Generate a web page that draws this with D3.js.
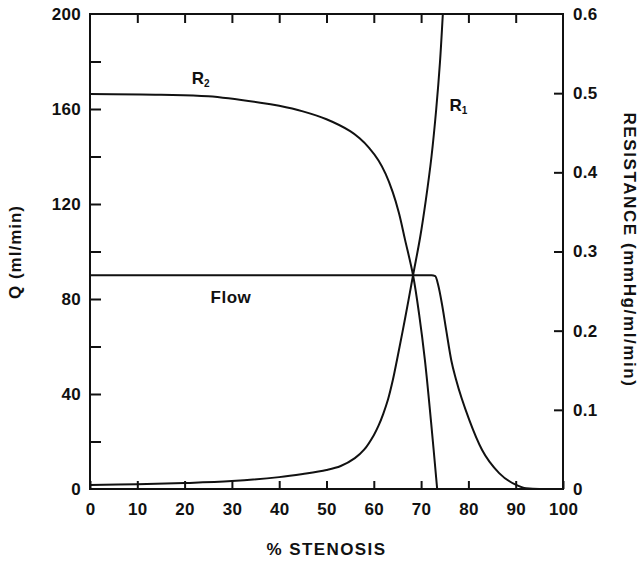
<!DOCTYPE html>
<html>
<head>
<meta charset="utf-8">
<script src="https://cdn.jsdelivr.net/npm/d3@7"></script>
<style>
  body { margin: 0; background: #fff; }
  text { font-family: "Liberation Sans", Arial, sans-serif; font-weight: bold; fill: #111; }
</style>
</head>
<body>
<svg id="chart" width="640" height="562"></svg>
<script>
// --------------- Data ---------------
const STENOSIS_TICKS = [0, 10, 20, 30, 40, 50, 60, 70, 80, 90, 100];
const Q_TICKS = [0, 40, 80, 120, 160, 200];
const R_TICKS = [0, 0.1, 0.2, 0.3, 0.4, 0.5, 0.6];

// flow (ml/min) vs % stenosis
const flowX = [0, 20, 40, 60, 72.2, 73.0, 73.6, 74.4, 75.3, 76.4, 77.4, 80.2, 82.9, 86.5, 90.1, 92.2, 95, 100];
const flowY = [90, 90, 90, 90, 90, 89.6, 86, 78, 67, 54, 46, 29, 16.4, 6.7, 1.7, 0.3, 0, 0];

// R1 resistance (mmHg/ml/min)
const r1X = [0, 10, 20, 30, 40, 45, 50, 53, 56, 58, 60, 61, 62, 63, 64, 64.9, 66.6, 68.3, 69.8, 71, 72.2, 73.2, 74, 74.6, 75.2];
const r1Y = [0.005, 0.006, 0.0075, 0.01, 0.015, 0.019, 0.024, 0.029, 0.039, 0.05, 0.068, 0.08, 0.095, 0.113, 0.137, 0.163, 0.215, 0.27, 0.318, 0.365, 0.42, 0.48, 0.54, 0.6, 0.66];

// R2 resistance (mmHg/ml/min)
const r2X = [0, 15, 25, 36, 40, 45, 50, 55, 57, 59, 61, 62.5, 64, 65.3, 66.6, 68.3, 69.6, 70.8, 72.1, 73.4];
const r2Y = [0.499, 0.498, 0.496, 0.488, 0.484, 0.477, 0.467, 0.452, 0.443, 0.431, 0.415, 0.398, 0.375, 0.349, 0.315, 0.27, 0.22, 0.163, 0.085, 0];

// --------------- Layout ---------------
const PLOT = { left: 90, right: 563, top: 14, bottom: 489 };

const svg = d3.select("#chart");
const x = d3.scaleLinear().domain([0, 100]).range([PLOT.left, PLOT.right]);
const yQ = d3.scaleLinear().domain([0, 200]).range([PLOT.bottom, PLOT.top]);
const yR = d3.scaleLinear().domain([0, 0.6]).range([PLOT.bottom, PLOT.top]);

svg.append("defs").append("clipPath").attr("id", "plot-clip")
  .append("rect")
  .attr("x", PLOT.left).attr("y", PLOT.top)
  .attr("width", PLOT.right - PLOT.left).attr("height", PLOT.bottom - PLOT.top);

// --------------- Axes ---------------
const styleAxis = (g) => {
  g.select(".domain").remove();
  g.selectAll(".tick line").attr("stroke", "#111").attr("stroke-width", 2);
  g.selectAll(".tick text")
    .attr("font-size", 17)
    .attr("fill", "#111")
    .style("font-family", "Liberation Sans, Arial, sans-serif")
    .style("font-weight", "bold")
    .style("letter-spacing", "0.3px");
};

// bottom: inward ticks, labels below
svg.append("g")
  .attr("transform", `translate(0,${PLOT.bottom})`)
  .call(d3.axisBottom(x).tickValues(STENOSIS_TICKS).tickSizeInner(-8).tickSizeOuter(0).tickPadding(14))
  .call(styleAxis);

// top: inward ticks only
svg.append("g")
  .attr("transform", `translate(0,${PLOT.top})`)
  .call(d3.axisTop(x).tickValues(STENOSIS_TICKS.slice(1, -1)).tickSizeInner(-9).tickSizeOuter(0).tickFormat(""))
  .call(styleAxis);

// left: minor ticks every 20, labels every 40
svg.append("g")
  .attr("transform", `translate(${PLOT.left},0)`)
  .call(d3.axisLeft(yQ).tickValues(d3.range(20, 200, 20)).tickSizeInner(-11).tickSizeOuter(0).tickFormat(""))
  .call(styleAxis);
svg.append("g")
  .attr("transform", `translate(${PLOT.left},0)`)
  .call(d3.axisLeft(yQ).tickValues(Q_TICKS).tickSize(0).tickPadding(9))
  .call(styleAxis);

// right
svg.append("g")
  .attr("class", "right-axis")
  .attr("transform", `translate(${PLOT.right},0)`)
  .call(d3.axisRight(yR).tickValues(R_TICKS).tickSizeInner(-9).tickSizeOuter(0).tickPadding(10).tickFormat((d) => d === 0 ? "0" : d3.format(".1f")(d)))
  .call(styleAxis);
svg.selectAll(".right-axis .tick").filter((d) => d === 0.6 || d === 0)
  .select("line").attr("stroke-width", 0);

// frame
svg.append("rect")
  .attr("x", PLOT.left).attr("y", PLOT.top)
  .attr("width", PLOT.right - PLOT.left).attr("height", PLOT.bottom - PLOT.top)
  .attr("fill", "none").attr("stroke", "#111").attr("stroke-width", 2);

// --------------- Curves ---------------
const plotG = svg.append("g").attr("clip-path", "url(#plot-clip)");
const drawCurve = (xs, ys, yScale, curve) => {
  const line = d3.line()
    .x((d, i) => x(xs[i]))
    .y((d) => yScale(d))
    .curve(curve);
  plotG.append("path")
    .attr("d", line(ys))
    .attr("fill", "none")
    .attr("stroke", "#111")
    .attr("stroke-width", 2);
};
drawCurve(flowX, flowY, yQ, d3.curveMonotoneX);
drawCurve(r1X, r1Y, yR, d3.curveCatmullRom.alpha(0.5));
drawCurve(r2X, r2Y, yR, d3.curveCatmullRom.alpha(0.5));

// --------------- Labels ---------------
const addR = (px, py, sub) => {
  const t = svg.append("text").attr("x", px).attr("y", py).attr("font-size", 17);
  t.append("tspan").text("R");
  t.append("tspan").attr("font-size", 10).attr("dy", 3).text(sub);
};
addR(x(21.5), yR(0.512), "2");
addR(x(76.0), yR(0.478), "1");

svg.append("text")
  .attr("x", x(25.5)).attr("y", yQ(78.5))
  .attr("font-size", 17)
  .style("letter-spacing", "0.5px")
  .text("Flow");

svg.append("text")
  .attr("x", (PLOT.left + PLOT.right) / 2).attr("y", 555)
  .attr("text-anchor", "middle").attr("font-size", 17)
  .style("letter-spacing", "1.4px")
  .text("% STENOSIS");

svg.append("text")
  .attr("transform", `translate(21,252) rotate(-90)`)
  .attr("text-anchor", "middle").attr("font-size", 17)
  .style("letter-spacing", "1px")
  .text("Q (ml/min)");

svg.append("text")
  .attr("transform", `translate(624,250) rotate(90)`)
  .attr("text-anchor", "middle").attr("font-size", 17)
  .style("letter-spacing", "1.6px")
  .text("RESISTANCE (mmHg/ml/min)");
</script>
</body>
</html>
